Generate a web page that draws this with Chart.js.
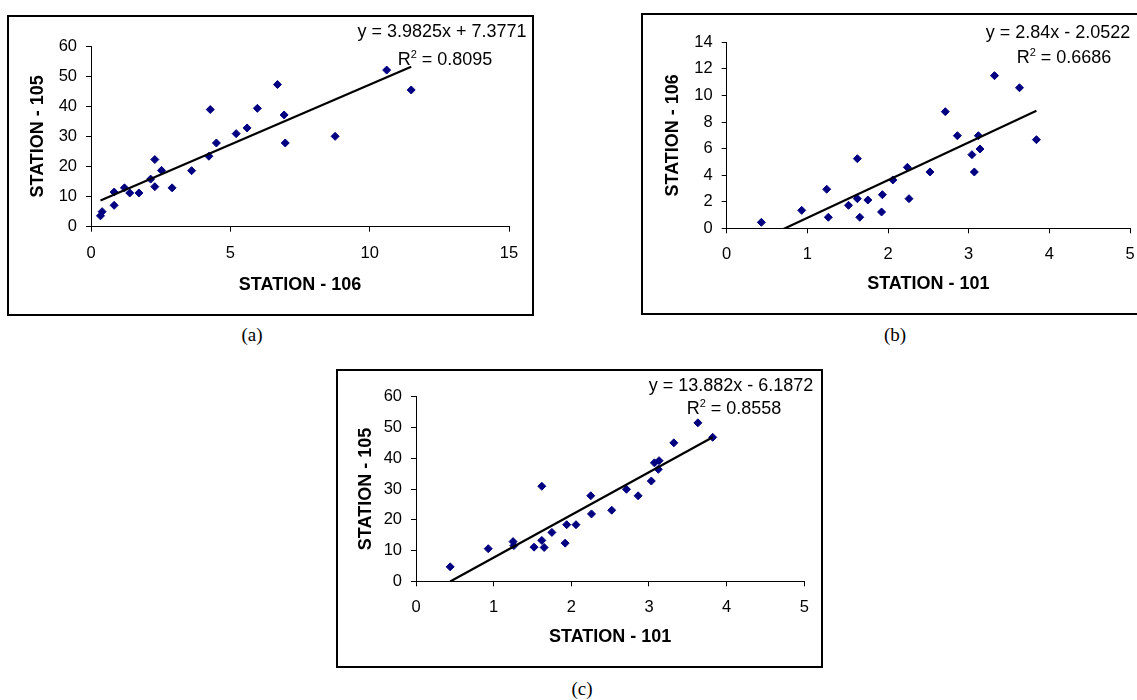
<!DOCTYPE html>
<html>
<head>
<meta charset="utf-8">
<script src="https://cdn.jsdelivr.net/npm/chart.js@4.4.1/dist/chart.umd.min.js"></script>
<style>
html, body { margin: 0; padding: 0; background: #fff; }
body { position: relative; width: 1137px; height: 700px; overflow: hidden; }
.frame { position: absolute; border: 2px solid #000; }
.frame canvas { display: block; }
.eq {
  position: absolute; white-space: nowrap; line-height: 1;
  font-family: "Liberation Sans", Arial, sans-serif; font-size: 18px; color: #000;
  transform: translate(-50%, -50%);
}
.eq sup { font-size: 11px; vertical-align: baseline; position: relative; top: -7px; }
.cap {
  position: absolute; line-height: 1;
  font-family: "Liberation Serif", "Times New Roman", serif; font-size: 19px; color: #000;
  transform: translate(-50%, -50%);
}
</style>
</head>
<body>

<div class="frame" style="left:7px; top:15px; width:523px; height:297px;"><canvas id="chartA" width="523" height="297"></canvas></div>
<div class="frame" style="left:641px; top:13px; width:520px; height:298px;"><canvas id="chartB" width="520" height="298"></canvas></div>
<div class="frame" style="left:336px; top:369px; width:483px; height:295px;"><canvas id="chartC" width="483" height="295"></canvas></div>

<div class="eq" style="left:442px; top:31px;">y = 3.9825x + 7.3771</div>
<div class="eq" style="left:445px; top:59px;">R<sup>2</sup> = 0.8095</div>
<div class="eq" style="left:1058px; top:32px;">y = 2.84x - 2.0522</div>
<div class="eq" style="left:1064px; top:57px;">R<sup>2</sup> = 0.6686</div>
<div class="eq" style="left:731px; top:385px;">y = 13.882x - 6.1872</div>
<div class="eq" style="left:734px; top:408px;">R<sup>2</sup> = 0.8558</div>

<div class="cap" style="left:252px; top:334px;">(a)</div>
<div class="cap" style="left:895px; top:334px;">(b)</div>
<div class="cap" style="left:582px; top:688px;">(c)</div>

<script>
/* ---- (a) STATION-106 vs STATION-105 ---- */
const aX106 = [0.34, 0.40, 0.83, 0.83, 1.20, 1.39, 1.72, 2.14, 2.29, 2.29, 2.53, 2.91, 3.61,
               4.23, 4.28, 4.50, 5.21, 5.60, 5.97, 6.69, 6.93, 6.97, 8.76, 10.61, 11.49];
const aY105 = [3.6, 5.0, 11.5, 7.1, 12.9, 11.2, 11.2, 15.8, 22.3, 13.3, 18.7, 12.9, 18.6,
               23.4, 38.9, 27.8, 30.9, 32.8, 39.3, 47.2, 37.1, 27.8, 30.0, 52.0, 45.4];
const aFit = [3.9825, 7.3771];
const aXTicks = [0, 5, 10, 15];
const aYTicks = [0, 10, 20, 30, 40, 50, 60];

/* ---- (b) STATION-101 vs STATION-106 ---- */
const bX101 = [0.43, 0.93, 1.24, 1.26, 1.51, 1.62, 1.62, 1.65, 1.75, 1.92, 1.93, 2.06,
               2.24, 2.26, 2.52, 2.71, 2.86, 3.04, 3.07, 3.12, 3.14, 3.32, 3.63, 3.84];
const bY106 = [0.45, 1.35, 2.94, 0.83, 1.73, 5.24, 2.23, 0.83, 2.13, 1.23, 2.53, 3.64,
               4.59, 2.23, 4.24, 8.78, 6.97, 5.54, 4.24, 6.97, 5.97, 11.49, 10.58, 6.67];
const bFit = [2.84, -2.0522];
const bXTicks = [0, 1, 2, 3, 4, 5];
const bYTicks = [0, 2, 4, 6, 8, 10, 12, 14];

/* ---- (c) STATION-101 vs STATION-105 ---- */
const cX101 = [0.44, 0.93, 1.25, 1.26, 1.52, 1.62, 1.62, 1.65, 1.75, 1.92, 1.94, 2.06,
               2.25, 2.26, 2.52, 2.71, 2.86, 3.03, 3.07, 3.12, 3.13, 3.32, 3.63, 3.82];
const cY105 = [4.7, 10.6, 12.9, 11.6, 11.1, 30.9, 13.3, 11.0, 15.9, 12.4, 18.4, 18.4,
               27.8, 21.9, 23.1, 29.9, 27.8, 32.6, 38.5, 36.4, 39.2, 45.0, 51.5, 46.8];
const cFit = [13.882, -6.1872];
const cXTicks = [0, 1, 2, 3, 4, 5];
const cYTicks = [0, 10, 20, 30, 40, 50, 60];

const FONT = '"Liberation Sans", Arial, sans-serif';

function axis(ticks, title, titlePad, tickPad, fitSize, horizontal) {
  return {
    type: 'linear',
    position: horizontal ? 'bottom' : 'left',
    min: ticks[0],
    max: ticks[ticks.length - 1],
    afterBuildTicks: s => { s.ticks = ticks.map(v => ({ value: v })); },
    afterFit: s => { if (horizontal) s.height = fitSize; else s.width = fitSize; },
    grid: { drawOnChartArea: false, drawTicks: true, tickLength: 5, color: '#000', lineWidth: 1 },
    border: { display: true, color: '#000', width: 1 },
    ticks: { color: '#000', padding: tickPad, font: { family: FONT, size: 16.5 } },
    title: {
      display: true, text: title, color: '#000',
      font: { family: FONT, size: 18, weight: 'bold' },
      padding: horizontal ? { top: 0, bottom: titlePad } : { top: titlePad, bottom: 0 }
    }
  };
}

// plot box in canvas pixels: left, right, top, bottom
function makeChart(id, xs, ys, fit, xTicks, yTicks, xTitle, yTitle, box, pads) {
  const cv = document.getElementById(id);
  const W = cv.width, H = cv.height;
  const pts = xs.map((x, i) => ({ x: x, y: ys[i] }));
  const x0 = Math.min(...xs), x1 = Math.max(...xs);
  const trend = [{ x: x0, y: fit[0] * x0 + fit[1] }, { x: x1, y: fit[0] * x1 + fit[1] }];

  return new Chart(cv, {
    type: 'scatter',
    data: {
      datasets: [
        {
          data: trend, showLine: true, pointRadius: 0, borderColor: '#000',
          borderWidth: 2.2, fill: false, clip: 0
        },
        {
          data: pts, pointStyle: 'rectRot', pointRadius: 4, pointHoverRadius: 4,
          backgroundColor: '#000080', borderColor: '#000080', borderWidth: 1
        }
      ]
    },
    options: {
      responsive: false,
      animation: false,
      layout: { padding: { left: 0, top: box[2], right: W - box[1], bottom: 0 } },
      plugins: { legend: { display: false }, tooltip: { enabled: false } },
      scales: {
        x: axis(xTicks, xTitle, pads[0], pads[1], H - box[3], true),
        y: axis(yTicks, yTitle, pads[2], 9, box[0], false)
      }
    }
  });
}

makeChart('chartA', aX106, aY105, aFit, aXTicks, aYTicks, 'STATION - 106', 'STATION - 105',
  [82, 500, 29, 209.7], [18.2, 12.2, 18]);
makeChart('chartB', bX101, bY106, bFit, bXTicks, bYTicks, 'STATION - 101', 'STATION - 106',
  [83.7, 487, 27.3, 213.3], [18.2, 11, 19]);
makeChart('chartC', cX101, cY105, cFit, cXTicks, cYTicks, 'STATION - 101', 'STATION - 105',
  [78, 466.3, 25.7, 210.3], [18.5, 11.3, 17]);
</script>
</body>
</html>
